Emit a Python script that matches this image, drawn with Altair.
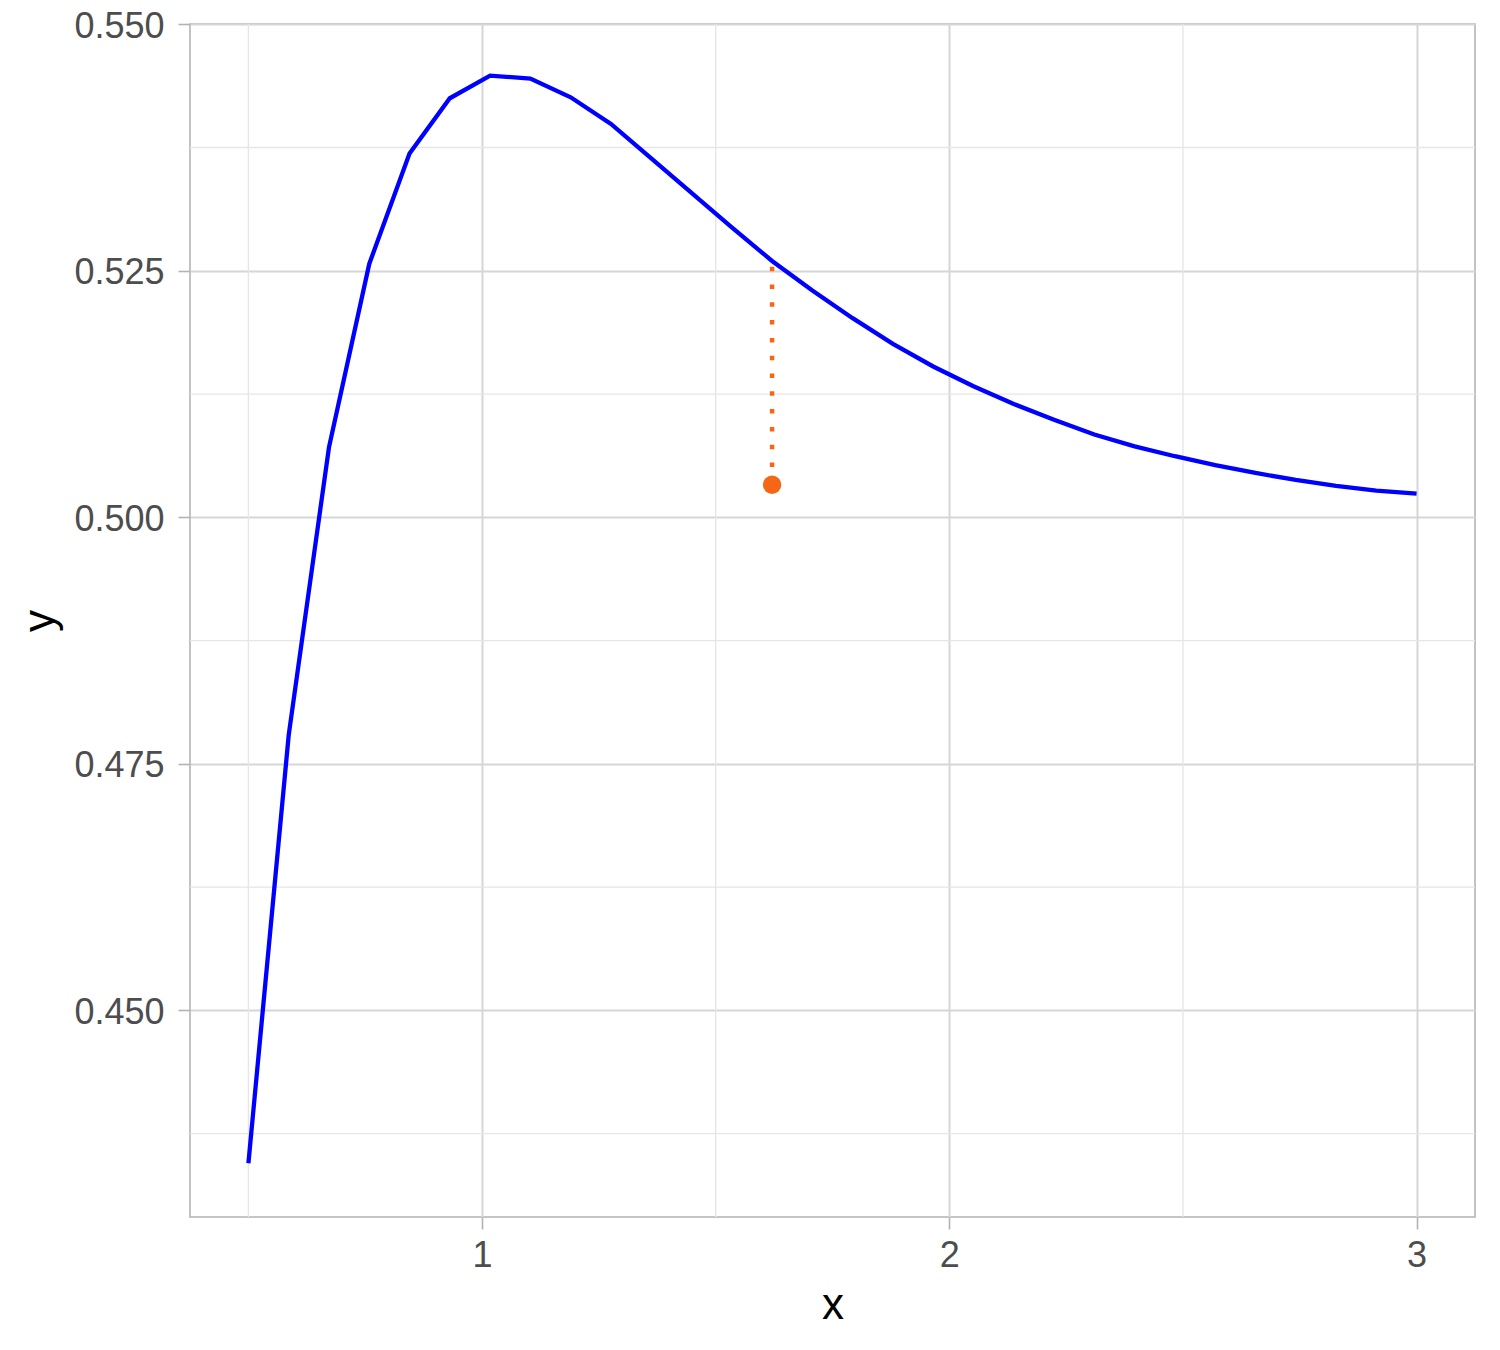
import altair as alt
import pandas as pd

# Curve samples
x_vals = [0.5, 0.5862, 0.6724, 0.7586, 0.8448, 0.9310, 1.0172, 1.1034, 1.1897, 1.2759,
          1.3621, 1.4483, 1.5345, 1.6207, 1.7069, 1.7931, 1.8793, 1.9655, 2.0517, 2.1379,
          2.2241, 2.3103, 2.3966, 2.4828, 2.5690, 2.6552, 2.7414, 2.8276, 2.9138, 3.0]
y_vals = [0.4345, 0.4779, 0.5071, 0.5257, 0.5369, 0.5425, 0.5448, 0.5445, 0.5426, 0.5399,
          0.5364, 0.5329, 0.5294, 0.5260, 0.5230, 0.5202, 0.5176, 0.5153, 0.5133, 0.5115,
          0.5099, 0.5084, 0.5072, 0.5062, 0.5053, 0.5045, 0.5038, 0.5032, 0.5027, 0.5024]

# Highlighted point and its vertical segment to the curve
pt_x = [1.6207]
pt_y = [0.5033]
pt_curve_y = [0.5260]

# Axis breaks
x_major = [1, 2, 3]
y_major = [0.450, 0.475, 0.500, 0.525, 0.550]
x_minor = [0.5, 1.5, 2.5]
y_minor = [0.4375, 0.4625, 0.4875, 0.5125, 0.5375]

curve_df = pd.DataFrame({"x": x_vals, "y": y_vals})
pt_df = pd.DataFrame({"x": pt_x, "y": pt_y, "y2": pt_curve_y})
xminor_df = pd.DataFrame({"x": x_minor})
yminor_df = pd.DataFrame({"y": y_minor})

FONT = "Liberation Sans"
xscale = alt.Scale(domain=[0.375, 3.125], nice=False, zero=False)
yscale = alt.Scale(domain=[0.42905, 0.55003], nice=False, zero=False)

xaxis = alt.Axis(values=x_major, title="x", format="d", grid=True,
                 gridColor="#D6D6D6", gridWidth=2, domain=False,
                 tickColor="#B3B3B3", tickSize=12, tickWidth=1.6,
                 labelFont=FONT, labelFontSize=36, labelColor="#4D4D4D",
                 labelBaseline="alphabetic", labelPadding=37,
                 titleFont=FONT, titleFontSize=44, titleFontWeight="normal",
                 titleColor="#000000", titleBaseline="alphabetic", titleAlign="center",
                 titleX=642.5, titleY=101)
yaxis = alt.Axis(values=y_major, title="y", format=".3f", grid=True,
                 gridColor="#D6D6D6", gridWidth=2, domain=False,
                 tickColor="#B3B3B3", tickSize=12, tickWidth=1.6,
                 labelFont=FONT, labelFontSize=36, labelColor="#4D4D4D",
                 labelPadding=14, labelOffset=2,
                 titleFont=FONT, titleFontSize=44, titleFontWeight="normal",
                 titleColor="#000000", titleBaseline="alphabetic", titleAlign="center",
                 titleAngle=270, titleX=-137, titleY=596.5)

xminor = alt.Chart(xminor_df).mark_rule(color="#E6E6E6", strokeWidth=1.4).encode(
    x=alt.X("x:Q", scale=xscale, axis=xaxis)
)
yminor = alt.Chart(yminor_df).mark_rule(color="#E6E6E6", strokeWidth=1.4).encode(
    y=alt.Y("y:Q", scale=yscale, axis=yaxis)
)

line = alt.Chart(curve_df).mark_line(color="#0000FF", strokeWidth=4.3).encode(
    x=alt.X("x:Q", scale=xscale, axis=xaxis),
    y=alt.Y("y:Q", scale=yscale, axis=yaxis),
)

seg = alt.Chart(pt_df).mark_rule(color="#F56716", strokeWidth=4.5,
                                 strokeDash=[4.5, 13.3], strokeCap="butt").encode(
    x="x:Q", y="y:Q", y2="y2:Q"
)

pt = alt.Chart(pt_df).mark_circle(color="#F56716", opacity=1, size=340).encode(
    x="x:Q", y="y:Q"
)

chart = alt.layer(xminor, yminor, line, seg, pt).properties(
    width=1285, height=1193,
    autosize=alt.AutoSizeParams(type="none"),
    padding={"left": 182, "top": 16, "right": 17, "bottom": 125},
    background="white",
).configure_view(stroke="#B3B3B3", strokeWidth=1.6)

chart.save("out.html", embed_options={"renderer": "svg", "actions": False})
